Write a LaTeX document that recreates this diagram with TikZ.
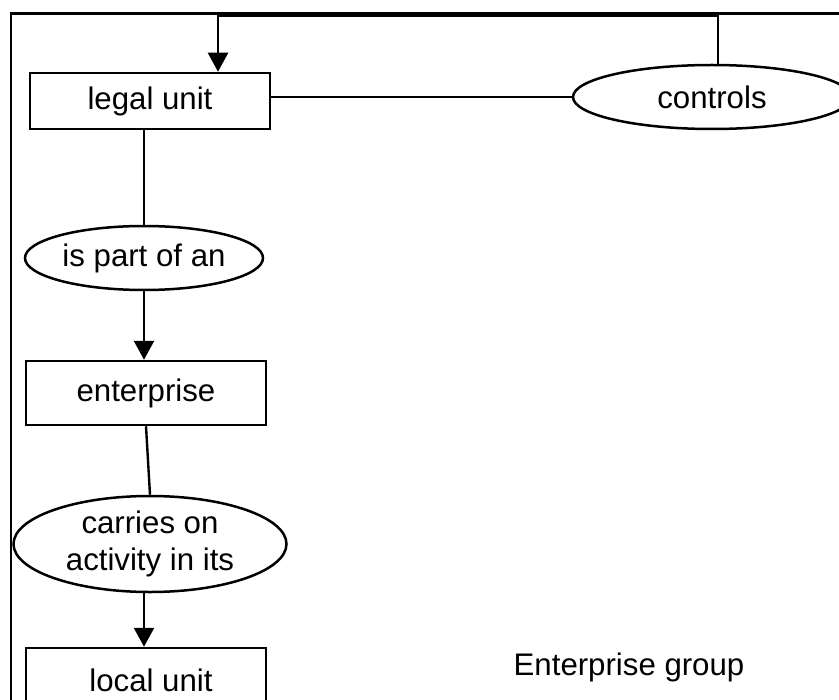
\documentclass[tikz,border=0pt]{standalone}
\usepackage{fontspec}
\setmainfont{Liberation Sans}
\usetikzlibrary{arrows.meta,shapes.geometric}

\begin{document}
\begin{tikzpicture}[x=0.5pt,y=-0.5pt]
\tikzset{every node/.style={font=\fontsize{15.6}{18.5}\selectfont, line width=1.25pt}}
\tikzset{unit/.style={draw,rectangle,minimum width=120pt,minimum height=32pt,inner sep=0pt}}
\tikzset{rel/.style={draw,ellipse,inner sep=0pt,align=center}}
\tikzset{link/.style={line width=1.2pt}}
\tikzset{arr/.style={link,-{Triangle[length=9.5pt,width=10pt]}}}
\useasboundingbox (0,0) rectangle (839,700);
\clip (0,0) rectangle (839,700);
\draw[link] (11,13.5) rectangle (900,760);
\node[unit, minimum height=28pt] (legal) at (150,101) {legal unit\hspace{10pt}};
\node[rel, minimum width=139pt, minimum height=32pt] (controls) at (712,97) {controls};
\node[rel, minimum width=119pt, minimum height=32pt] (ispart) at (144,258) {is part of an};
\node[unit] (enterprise) at (146,393) {enterprise\hspace{6pt}};
\node[rel, minimum width=136.5pt, minimum height=48pt] (carries) at (150,544) {carries on\\activity in its};
\node[unit] (local) at (146,680) {\hspace{5pt}local unit};
\node (group) at (629,667) {Enterprise group};
\coordinate (ctl) at (718,15.5);
\coordinate (lgtop) at (218,15.5);
\draw[arr] (controls.north -| ctl) |- (lgtop) -- (lgtop |- legal.north);
\draw[link] (controls.west) -- (controls.west -| legal.east);
\draw[link] (ispart.north) -- (ispart.north |- legal.south);
\draw[arr] (ispart.south) -- (ispart.south |- enterprise.north);
\draw[link] (enterprise.south) -- (carries.north);
\draw[arr] (carries.south -| ispart.south) -- (local.north -| ispart.south);
\end{tikzpicture}
\end{document}
